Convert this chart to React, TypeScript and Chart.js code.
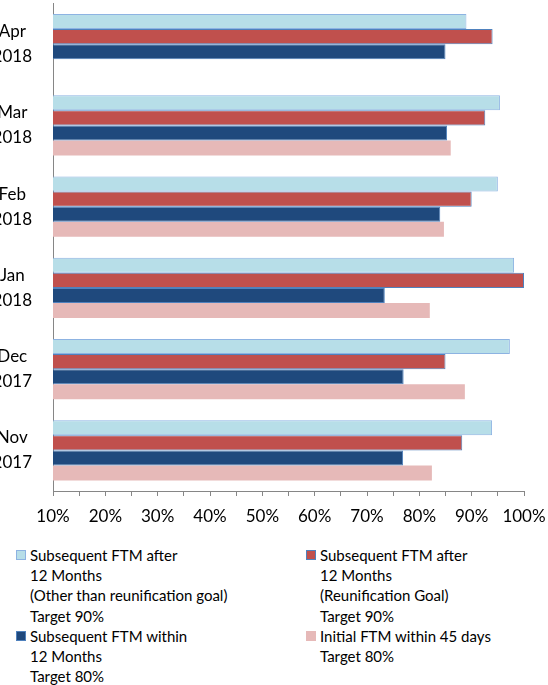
import React, { useEffect, useRef } from "react";
import { Chart, registerables } from "chart.js";

Chart.register(...registerables);

const categories: string[][] = [
  ["Apr", "2018"],
  ["Mar", "2018"],
  ["Feb", "2018"],
  ["Jan", "2018"],
  ["Dec", "2017"],
  ["Nov", "2017"],
];

const afterOtherGoal: (number | null)[] = [89, 95.4, 95, 98.1, 97.3, 93.9];
const afterReunificationGoal: (number | null)[] = [94, 92.6, 90, 100, 85, 88.2];
const withinTwelveMonths: (number | null)[] = [85, 85.3, 84, 73.4, 77, 76.9];
const initialWithin45Days: (number | null)[] = [null, 86, 84.7, 82, 88.7, 82.4];

const xMin = 10;
const xMax = 100;
const xStep = 5;

const seriesLabels: string[][] = [
  ["Subsequent FTM after", "12 Months", "(Other than reunification goal)", "Target 90%"],
  ["Subsequent FTM after", "12 Months", "(Reunification Goal)", "Target 90%"],
  ["Subsequent FTM within", "12 Months", "Target 80%"],
  ["Initial FTM within 45 days", "Target 80%"],
];

const seriesFill = ["#b7dee8", "#c0504d", "#1f497d", "#e6b9b8"];
const seriesBorder = ["#8db3e2", "#4f81bd", "#4f81bd", "#e6b9b8"];
const seriesValues = [afterOtherGoal, afterReunificationGoal, withinTwelveMonths, initialWithin45Days];

const FONT = "Lato, 'Open Sans', sans-serif";

export default function App() {
  const ref = useRef<HTMLCanvasElement | null>(null);

  useEffect(() => {
    if (!ref.current) return;
    const chart = new Chart(ref.current, {
      type: "bar",
      data: {
        labels: categories,
        datasets: seriesValues.map((vals, i) => ({
          label: seriesLabels[i].join(" "),
          data: vals,
          backgroundColor: seriesFill[i],
          borderColor: seriesBorder[i],
          borderWidth: i === 3 ? 0 : 1,
          categoryPercentage: 0.739,
          barPercentage: 1.0,
        })),
      },
      options: {
        indexAxis: "y",
        responsive: false,
        animation: false,
        layout: { padding: { top: 3.5, right: 24, left: 0, bottom: 0 } },
        plugins: {
          legend: { display: false },
          tooltip: { enabled: false },
        },
        scales: {
          x: {
            type: "linear",
            position: "bottom",
            min: xMin,
            max: xMax,
            ticks: {
              stepSize: xStep,
              autoSkip: false,
              maxRotation: 0,
              color: "#000",
              font: { family: FONT, size: 17 },
              padding: 10,
              callback: (v: any) => (Number(v) % 10 === 0 ? `${v}%` : ""),
            },
            grid: {
              display: true,
              drawOnChartArea: false,
              drawTicks: true,
              tickLength: 5,
              color: "#868686",
            },
            border: { display: true, color: "#868686", width: 1 },
            afterFit: (s: any) => {
              s.height = 39;
              s.paddingLeft = 0;
              s.paddingRight = 0;
            },
          },
          y: {
            type: "category",
            ticks: {
              color: "#000",
              font: { family: FONT, size: 17, lineHeight: 1.47 },
              padding: 13,
              crossAlign: "center",
            },
            grid: { display: false },
            border: { display: true, color: "#868686", width: 1 },
            afterFit: (s: any) => {
              s.width = 73;
              s.paddingTop = 0;
              s.paddingBottom = 0;
            },
          },
        },
      },
    });
    return () => chart.destroy();
  }, []);

  const legendItem = (i: number) => (
    <div key={i} style={{ display: "flex", alignItems: "flex-start" }}>
      <div
        style={{
          width: 10,
          height: 10,
          marginTop: 5,
          boxSizing: "border-box",
          background: seriesFill[i],
          border: i === 3 ? "none" : `1px solid ${seriesBorder[i]}`,
          flex: "0 0 auto",
        }}
      />
      <div style={{ marginLeft: 4 }}>
        {seriesLabels[i].map((l, k) => (
          <div key={k} style={{ whiteSpace: "nowrap" }}>{l}</div>
        ))}
      </div>
    </div>
  );

  return (
    <div
      style={{
        position: "absolute",
        left: 0,
        top: 0,
        width: 548,
        height: 685,
        overflow: "hidden",
        background: "#fff",
      }}
    >
      <canvas
        ref={ref}
        width={568}
        height={530}
        style={{ position: "absolute", left: -20, top: 0, width: 568, height: 530 }}
      />
      <div
        style={{
          position: "absolute",
          left: 16,
          top: 545,
          display: "grid",
          gridTemplateColumns: "290px 240px",
          fontFamily: FONT,
          fontSize: 15,
          lineHeight: "20.2px",
          color: "#000",
        }}
      >
        {[0, 1, 2, 3].map((i) => legendItem(i))}
      </div>
    </div>
  );
}
